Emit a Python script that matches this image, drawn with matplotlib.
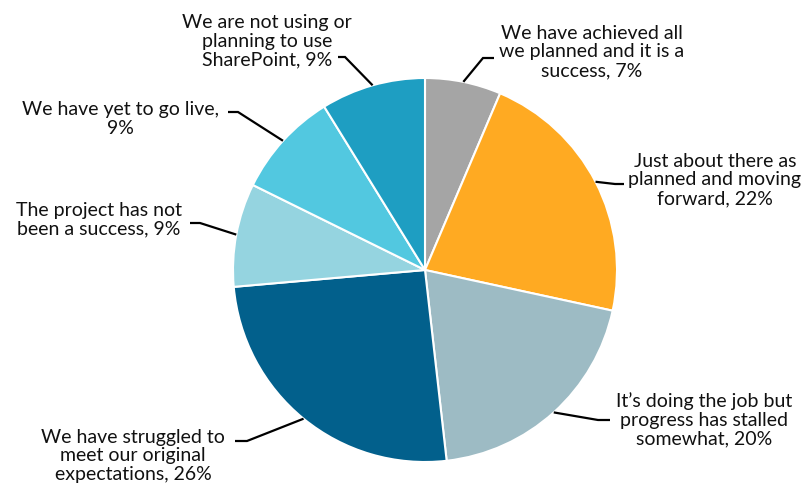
import matplotlib
matplotlib.use("Agg")
import matplotlib.pyplot as plt
import numpy as np

categories = [
    "We have achieved all\nwe planned and it is a\nsuccess",
    "Just about there as\nplanned and moving\nforward",
    "It\u2019s doing the job but\nprogress has stalled\nsomewhat",
    "We have struggled to\nmeet our original\nexpectations",
    "The project has not\nbeen a success",
    "We have yet to go live,\n",
    "We are not using or\nplanning to use\nSharePoint",
]
values = [6.4, 22.0, 19.8, 25.4, 8.7, 8.9, 8.8]
pct_labels = ["7%", "22%", "20%", "26%", "9%", "9%", "9%"]
colors = ["#A5A5A5", "#FFAA22", "#9DBBC4", "#02608C", "#95D4E0", "#52C8E0", "#1E9EC2"]

W, H = 806, 487
fig = plt.figure(figsize=(W / 100, H / 100), dpi=100)
ax = fig.add_axes([0, 0, 1, 1])

def P(x, y):
    return x, H - y

cx, cy = P(425, 270)
R = 192
wedges, _ = ax.pie(values, colors=colors, startangle=90, counterclock=False,
                   center=(cx, cy), radius=R, frame=False,
                   wedgeprops=dict(edgecolor="white", linewidth=1.5))
ax.set_xlim(0, W)
ax.set_ylim(0, H)
ax.set_aspect("equal")
ax.axis("off")

# label layout: text center (x, y top-origin), elbow point, end of horizontal segment
layout = [
    dict(text=(592, 52), elbow=(483, 58), end=(494, 58)),
    dict(text=(715, 180), elbow=(615, 184), end=(624, 184)),
    dict(text=(704, 420), elbow=(598, 420), end=(610, 420)),
    dict(text=(133, 456), elbow=(247, 441), end=(235, 441)),
    dict(text=(99, 220), elbow=(200, 223), end=(190, 223)),
    dict(text=(120, 119), elbow=(238, 112), end=(228, 112)),
    dict(text=(267, 41), elbow=(345, 57), end=(338, 57)),
]

for w, cat, pct, lay in zip(wedges, categories, pct_labels, layout):
    ang = np.deg2rad((w.theta1 + w.theta2) / 2)
    sx, sy = cx + R * np.cos(ang), cy + R * np.sin(ang)
    ex, ey = P(*lay["elbow"])
    tx, ty = P(*lay["end"])
    ax.plot([sx, ex, tx], [sy, ey, ty], color="black", lw=1.6,
            solid_capstyle="butt", solid_joinstyle="miter")
    if cat.endswith("\n"):
        label = cat + pct
    else:
        label = cat + ", " + pct
    x, y = P(*lay["text"])
    ax.text(x, y, label, ha="center", va="center", multialignment="center",
            fontsize=14, family=["Lato", "DejaVu Sans"], color="#111111",
            linespacing=1.12)

fig.savefig("out.png", dpi=100)
